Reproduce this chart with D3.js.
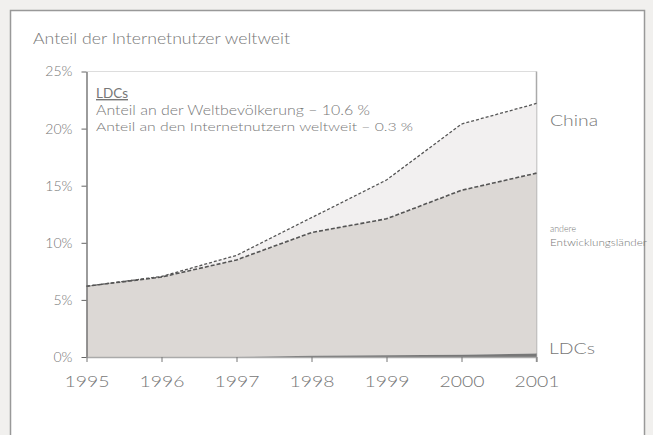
<!DOCTYPE html>
<html><head><meta charset="utf-8">
<script src="https://cdn.jsdelivr.net/npm/d3@7"></script>
<style>
html,body{margin:0;padding:0;background:#f1f0ee;}
svg{display:block;}
text{font-family:"Lato","Liberation Sans",sans-serif;font-weight:300;fill:#777;}
</style></head>
<body>
<svg id="c" width="653" height="435"></svg>
<script>
const years = [1995,1996,1997,1998,1999,2000,2001];
const ldcs = [0.0,0.0,0.0,0.1,0.15,0.2,0.3];
const andere = [6.2,7.0,8.5,10.9,12.1,14.6,16.1];
const china = [6.2,7.05,8.9,12.2,15.5,20.4,22.2];
const yTicks = [0,5,10,15,20,25];

const svg = d3.select("#c");
svg.append("rect").attr("x",10.5).attr("y",10.5).attr("width",634).attr("height",430)
  .attr("fill","#fff").attr("stroke","#999").attr("stroke-width",1.5);

const x = d3.scaleLinear().domain([1995,2001]).range([86.5,536.5]);
const y = d3.scaleLinear().domain([0,25]).range([357,71.5]);

const txt = (g,xx,yy,size,s,len,fill)=>{
  const t = g.append("text").attr("x",xx).attr("y",yy).attr("font-size",size).text(s);
  if(len) t.attr("textLength",len).attr("lengthAdjust","spacingAndGlyphs");
  if(fill) t.attr("fill",fill);
  return t;
};

txt(svg,33,44,15,"Anteil der Internetnutzer weltweit",257);

// frame top and right
svg.append("line").attr("x1",x(1995)).attr("x2",x(2001)).attr("y1",y(25)).attr("y2",y(25)).attr("stroke","#ddd");
svg.append("line").attr("x1",x(2001)).attr("x2",x(2001)).attr("y1",y(25)).attr("y2",y(0)+5).attr("stroke","#aaa").attr("stroke-width",1.5);

const area = (lo,hi)=>d3.area().x((d,i)=>x(years[i])).y0((d,i)=>y(lo[i])).y1((d,i)=>y(hi[i]));
svg.append("path").datum(years).attr("d",area(andere,china)).attr("fill","#f2f0f0");
svg.append("path").datum(years).attr("d",area(ldcs,andere)).attr("fill","#dcd8d5");
svg.append("path").datum(years).attr("d",area(years.map(()=>0),ldcs)).attr("fill","#777");

const line = arr=>d3.line().x((d,i)=>x(years[i])).y((d,i)=>y(arr[i]));
svg.append("path").datum(years).attr("d",line(china)).attr("fill","none").attr("stroke","#555").attr("stroke-width",1.3).attr("stroke-dasharray","3,2");
svg.append("path").datum(years).attr("d",line(andere)).attr("fill","none").attr("stroke","#555").attr("stroke-width",1.6).attr("stroke-dasharray","4,2");

// axes
const ya = svg.append("g").attr("transform",`translate(${x(1995)},0)`)
  .call(d3.axisLeft(y).tickValues(yTicks).tickFormat(d=>d+"%").tickSize(5).tickSizeOuter(0));
ya.select(".domain").attr("stroke","#666").attr("stroke-width",1.3);
ya.selectAll(".tick line").attr("stroke","#666");
ya.selectAll("text").attr("font-size",14).attr("fill","#888").attr("x",-14)
  .style("font-family","Lato,sans-serif").style("font-weight",300);

const xa = svg.append("g").attr("transform",`translate(0,${y(0)})`)
  .call(d3.axisBottom(x).tickValues(years).tickFormat(d3.format("d")).tickSize(5).tickSizeOuter(0));
xa.select(".domain").attr("stroke","#aaa").attr("stroke-width",1.3);
xa.selectAll(".tick line").attr("stroke","#777");
xa.selectAll("text").attr("font-size",16).attr("fill","#888").attr("y",19)
  .style("font-family","Lato,sans-serif").style("font-weight",300)
  .attr("textLength",45).attr("lengthAdjust","spacingAndGlyphs");

// legend
const lg = svg.append("g");
txt(lg,96,98,14,"LDCs",32,"#666").attr("text-decoration","underline").style("font-weight",400);
txt(lg,96,115,13,"Anteil an der Weltbevölkerung – 10.6 %",274);
txt(lg,96,131,12,"Anteil an den Internetnutzern weltweit – 0.3 %",317,"#888");

// right labels
txt(svg,550,126,16,"China",48);
txt(svg,550,232,9,"andere",26);
txt(svg,550,246,9,"Entwicklungsländer",97);
txt(svg,549,354,15,"LDCs",46);
</script>
</body></html>
